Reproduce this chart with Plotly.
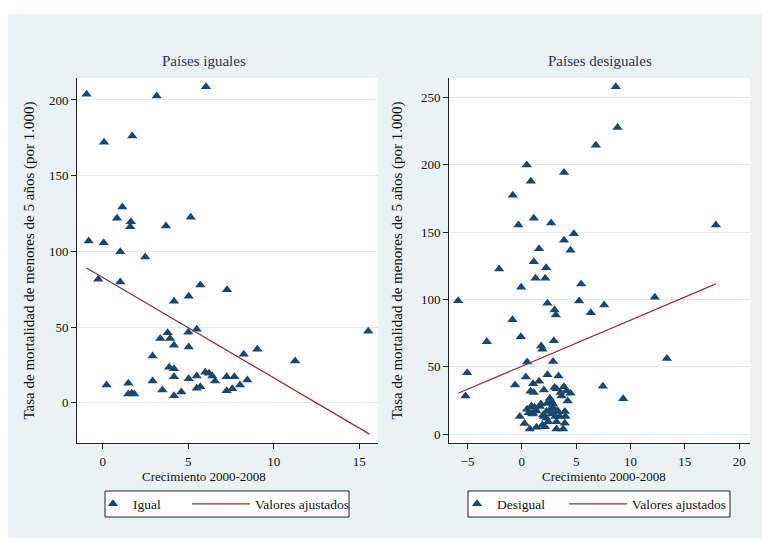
import plotly.graph_objects as go

# ---- Data: países iguales ----
igual_x = [-0.94, 3.16, 6.04, 0.08, 1.73, 1.15, 0.84, 1.65, 1.61, 3.70, 5.15, -0.82, 0.06, 1.03, 2.49,
           -0.26, 1.03, 4.17, 5.03, 5.71, 7.27, 5.01, 5.50, 15.53, 3.80, 3.37, 3.94, 4.17, 5.03, 8.25,
           9.04, 11.25, 2.92, 3.89, 4.17, 4.17, 0.23, 1.50, 2.92, 3.49, 4.17, 4.60, 1.50, 1.70, 1.85,
           5.03, 5.50, 5.50, 5.71, 6.00, 6.22, 6.41, 6.57, 7.25, 7.25, 7.70, 7.58, 8.03, 8.46]
igual_y = [203.7, 202.6, 208.7, 172.0, 176.2, 129.3, 121.8, 119.6, 116.3, 116.7, 122.5, 106.8, 105.7, 99.7, 96.2,
           81.5, 79.7, 67.0, 70.3, 77.7, 74.6, 46.5, 48.5, 47.2, 46.2, 42.5, 42.5, 37.9, 36.8, 32.0,
           35.3, 27.5, 30.8, 23.4, 22.5, 17.2, 11.7, 12.8, 14.3, 8.4, 4.6, 7.1, 5.7, 6.3, 5.8,
           15.9, 17.6, 9.5, 10.6, 20.1, 19.4, 17.6, 14.3, 17.2, 7.9, 17.2, 9.2, 11.7, 15.0]
igual_fit_x = [-0.94, 15.6]
igual_fit_y = [89.0, -20.7]

# ---- Data: países desiguales ----
desigual_x = [8.65, 8.81, 6.81, 0.46, 0.83, 3.89, -0.83, 1.10, -0.31, 2.70, 17.86, 4.79, 3.89, 1.59, 4.48,
              1.10, -2.09, 2.24, 1.26, 2.15, 5.46, -0.06, -5.86, 5.27, 12.24, 7.58, 2.36, 3.01, 3.13, 6.35,
              -0.86, -0.09, -3.22, 2.95, 1.78, 1.90, 13.35, 0.49, 2.88, -5.03, 0.37, 2.36, 3.38, -0.62, 1.59,
              1.04, -5.18, 7.46, 9.33,
              0.80, 1.10, 2.03, 3.01, 3.19, 3.87, 3.56, 4.11, 4.48, 3.65, 4.23, 2.58, 2.73, 2.88, 2.33,
              1.75, 1.17, 0.49, 0.64, 0.95, -0.18, 0.25, 0.74, 1.35, 1.90, 2.12, 2.03, 2.27, 2.58, 2.88,
              2.73, 3.10, 3.34, 3.19, 2.42, 3.19, 3.80, 3.96, 4.02, 3.96, 1.66, 1.35, 1.96, 2.27, 3.50,
              3.25, 1.04, 0.89]
desigual_y = [257.9, 227.5, 214.4, 199.8, 187.7, 194.1, 177.3, 160.2, 155.3, 156.7, 155.3, 148.8, 144.0, 137.7, 136.5,
              128.0, 122.6, 123.6, 115.7, 115.7, 111.5, 109.0, 99.1, 98.9, 101.6, 95.9, 97.2, 92.2, 88.5, 90.2,
              85.0, 72.4, 68.7, 69.4, 65.5, 63.0, 56.1, 53.6, 53.9, 45.7, 42.5, 44.2, 43.2, 36.6, 39.3,
              37.5, 28.4, 35.6, 26.4,
              31.9, 30.9, 32.9, 34.6, 33.8, 35.3, 30.9, 32.3, 30.4, 28.4, 24.7, 26.7, 24.2, 22.3, 23.0,
              22.5, 20.0, 18.5, 16.0, 15.1, 13.1, 7.9, 3.9, 5.2, 6.9, 5.6, 13.1, 16.8, 18.0, 19.3,
              15.1, 13.1, 16.8, 9.3, 9.3, 3.9, 3.9, 8.2, 13.1, 16.8, 20.5, 17.3, 14.3, 11.9, 13.1,
              17.5, 15.6, 21.0]
desigual_fit_x = [-5.86, 17.86]
desigual_fit_y = [30.4, 111.5]

panel_titles = ["Países iguales", "Países desiguales"]
x_title = "Crecimiento 2000-2008"
y_title = "Tasa de mortalidad de menores de 5 años (por 1.000)"
left_xticks = [0, 5, 10, 15]
left_yticks = [0, 50, 100, 150, 200]
right_xticks = [-5, 0, 5, 10, 15, 20]
right_yticks = [0, 50, 100, 150, 200, 250]

# ---- Styling ----
W, H = 762, 541
FONT = "Liberation Serif"
NAVY = "#1a476f"
MAROON = "#90353b"
REGION_BG = "#eaf2f3"
GRID = "#e1ebee"
INK = "#111111"
marker = dict(symbol="triangle-up", size=9, color=NAVY, line=dict(width=0))
fitline = dict(color=MAROON, width=1.3)


def px_x(p):
    return p / W


def px_y(p):
    return 1 - p / H


fig = go.Figure()
fig.add_trace(go.Scatter(x=igual_x, y=igual_y, mode="markers", marker=marker, name="Igual",
                         xaxis="x", yaxis="y", legend="legend"))
fig.add_trace(go.Scatter(x=igual_fit_x, y=igual_fit_y, mode="lines", line=fitline,
                         name="Valores ajustados", xaxis="x", yaxis="y", legend="legend2"))
fig.add_trace(go.Scatter(x=desigual_x, y=desigual_y, mode="markers", marker=marker, name="Desigual",
                         xaxis="x2", yaxis="y2", legend="legend3"))
fig.add_trace(go.Scatter(x=desigual_fit_x, y=desigual_fit_y, mode="lines", line=fitline,
                         name="Valores ajustados", xaxis="x2", yaxis="y2", legend="legend4"))

y_dom = [px_y(443), px_y(78)]
axis_common = dict(showline=True, linecolor="#222222", linewidth=1, ticks="outside", ticklen=5,
                   tickcolor="#222222", tickwidth=1, zeroline=False, mirror=False,
                   tickfont=dict(family=FONT, size=13, color=INK))


def ytitle(standoff):
    return dict(text=y_title, font=dict(family=FONT, size=15, color=INK), standoff=standoff)


def legend_at(x_px, itemwidth=30):
    return dict(orientation="h", x=px_x(x_px), y=px_y(504), xanchor="left", yanchor="middle",
                bgcolor="rgba(0,0,0,0)", borderwidth=0, itemwidth=itemwidth,
                font=dict(family=FONT, size=13.5, color=INK))


fig.update_layout(
    width=W, height=H, margin=dict(l=0, r=0, t=0, b=0),
    paper_bgcolor=REGION_BG, plot_bgcolor="white",
    font=dict(family=FONT, size=13, color=INK),
    xaxis=dict(domain=[px_x(77), px_x(378)], range=[-1.5, 16.1], tickvals=left_xticks,
               showgrid=False, anchor="y", ticklabelstandoff=1, **axis_common),
    yaxis=dict(domain=y_dom, range=[-26.6, 214.5], tickvals=left_yticks, anchor="x",
               showgrid=True, gridcolor=GRID, gridwidth=1, title=ytitle(10), **axis_common),
    xaxis2=dict(domain=[px_x(449), px_x(750)], range=[-6.7, 21.0], tickvals=right_xticks,
                showgrid=False, anchor="y2", ticklabelstandoff=1, **axis_common),
    yaxis2=dict(domain=y_dom, range=[-6.5, 264.3], tickvals=right_yticks, anchor="x2",
                showgrid=True, gridcolor=GRID, gridwidth=1, title=ytitle(14), **axis_common),
    legend=legend_at(93),
    legend2=legend_at(187, itemwidth=58),
    legend3=legend_at(457),
    legend4=legend_at(564, itemwidth=58),
    showlegend=True,
)

# white page margin around the graph region
for x0, y0, x1, y1 in [(0, 0, W, 14), (0, 0, 8, H), (0, 538, W, H)]:
    fig.add_shape(type="rect", xref="paper", yref="paper",
                  x0=px_x(x0), x1=px_x(x1), y0=px_y(y1), y1=px_y(y0),
                  fillcolor="white", line=dict(width=0), layer="below")

# legend frames
for x0, x1 in [(105, 349), (468, 730)]:
    fig.add_shape(type="rect", xref="paper", yref="paper",
                  x0=px_x(x0), x1=px_x(x1), y0=px_y(517), y1=px_y(491),
                  fillcolor="white", line=dict(color="#222222", width=1), layer="below")

# panel titles
for title, cx in zip(panel_titles, [204, 600]):
    fig.add_annotation(text=title, x=px_x(cx), y=px_y(61), xref="paper", yref="paper",
                       xanchor="center", yanchor="middle", showarrow=False,
                       font=dict(family=FONT, size=15, color="#2a3656"))

# x axis titles
for cx in [204, 604]:
    fig.add_annotation(text=x_title, x=px_x(cx), y=px_y(476), xref="paper", yref="paper",
                       xanchor="center", yanchor="middle", showarrow=False,
                       font=dict(family=FONT, size=13, color=INK))

fig.write_html("out.html")
